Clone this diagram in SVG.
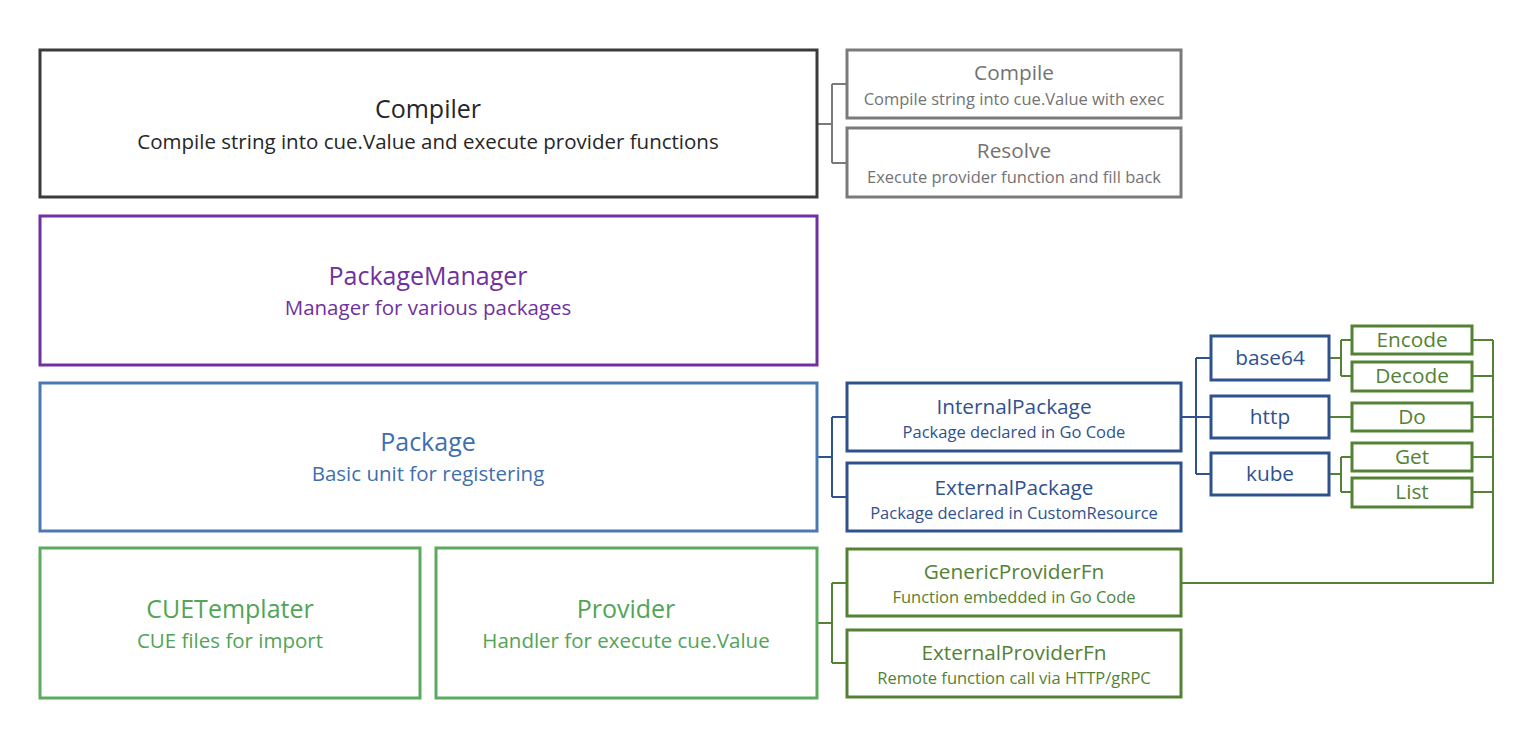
<svg xmlns="http://www.w3.org/2000/svg" width="1526" height="734" viewBox="0 0 1526 734">
<style>
text{font-family:"Open Sans","Noto Sans",sans-serif;text-anchor:middle}
rect{fill:#fff;stroke-width:3}
.t1{font-size:25px}
.s1{font-size:20.5px}
.t2{font-size:20.8px}
.s2{font-size:16.5px}
.k{stroke:#3b3b3b}.kt{fill:#262626}
.g{stroke:#7a7a7a}.gt{fill:#737373}
.p{stroke:#7030a0}.pt{fill:#7030a0}
.b{stroke:#4a78b4}.bt{fill:#3f6fae}
.d{stroke:#2f528f}.dt{fill:#2f528f}
.e{stroke:#548235}.et{fill:#548235}
.l{stroke:#5aab5e}.lt{fill:#52a456}
.c{fill:none;stroke-width:2}
</style>
<g id="connectors">
<path class="c g" d="M817,124H832M832,84V163M832,84H847M832,163H847"/>
<path class="c d" d="M817,457H832M832,417V497M832,417H847M832,497H847"/>
<path class="c e" d="M817,623H832M832,583V663M832,583H847M832,663H847"/>
<path class="c d" d="M1181,417H1196M1196,358V474M1196,358H1211M1196,417H1211M1196,474H1211"/>
<path class="c e" d="M1329,358H1341M1341,340V376M1341,340H1352M1341,376H1352"/>
<path class="c e" d="M1329,417H1352"/>
<path class="c e" d="M1329,474H1341M1341,457V492M1341,457H1352M1341,492H1352"/>
<path class="c e" d="M1472,340H1493M1472,376H1493M1472,417H1493M1472,457H1493M1472,492H1493M1493,340V583H1181"/>
</g>
<g id="compiler"><rect class="k" x="40" y="50" width="777" height="147"/><text class="t1 kt" x="428" y="118">Compiler</text><text class="s1 kt" x="428" y="149">Compile string into cue.Value and execute provider functions</text></g>
<g id="compile"><rect class="g" x="847" y="50" width="334" height="68"/><text class="t2 gt" x="1014" y="80">Compile</text><text class="s2 gt" x="1014" y="105">Compile string into cue.Value with exec</text></g>
<g id="resolve"><rect class="g" x="847" y="128" width="334" height="69"/><text class="t2 gt" x="1014" y="158">Resolve</text><text class="s2 gt" x="1014" y="183">Execute provider function and fill back</text></g>
<g id="packagemanager"><rect class="p" x="40" y="216" width="777" height="149"/><text class="t1 pt" x="428" y="285">PackageManager</text><text class="s1 pt" x="428" y="315">Manager for various packages</text></g>
<g id="package"><rect class="b" x="40" y="383" width="777" height="148"/><text class="t1 bt" x="428" y="451">Package</text><text class="s1 bt" x="428" y="481">Basic unit for registering</text></g>
<g id="internalpackage"><rect class="d" x="847" y="383" width="334" height="68"/><text class="t2 dt" x="1014" y="414">InternalPackage</text><text class="s2 dt" x="1014" y="438">Package declared in Go Code</text></g>
<g id="externalpackage"><rect class="d" x="847" y="463" width="334" height="68"/><text class="t2 dt" x="1014" y="495">ExternalPackage</text><text class="s2 dt" x="1014" y="519">Package declared in CustomResource</text></g>
<g id="base64"><rect class="d" x="1211" y="336" width="118" height="44"/><text class="t2 dt" x="1270" y="365">base64</text></g>
<g id="http"><rect class="d" x="1211" y="396" width="118" height="42"/><text class="t2 dt" x="1270" y="424">http</text></g>
<g id="kube"><rect class="d" x="1211" y="453" width="118" height="42"/><text class="t2 dt" x="1270" y="481">kube</text></g>
<g id="encode"><rect class="e" x="1352" y="326" width="120" height="28"/><text class="t2 et" x="1412" y="347">Encode</text></g>
<g id="decode"><rect class="e" x="1352" y="362" width="120" height="29"/><text class="t2 et" x="1412" y="383">Decode</text></g>
<g id="do"><rect class="e" x="1352" y="403" width="120" height="28"/><text class="t2 et" x="1412" y="424">Do</text></g>
<g id="get"><rect class="e" x="1352" y="443" width="120" height="28"/><text class="t2 et" x="1412" y="464">Get</text></g>
<g id="list"><rect class="e" x="1352" y="478" width="120" height="29"/><text class="t2 et" x="1412" y="499">List</text></g>
<g id="cuetemplater"><rect class="l" x="40" y="548" width="380" height="150"/><text class="t1 lt" x="230" y="618">CUETemplater</text><text class="s1 lt" x="230" y="648">CUE files for import</text></g>
<g id="provider"><rect class="l" x="436" y="548" width="381" height="150"/><text class="t1 lt" x="626" y="618">Provider</text><text class="s1 lt" x="626" y="648">Handler for execute cue.Value</text></g>
<g id="genericproviderfn"><rect class="e" x="847" y="549" width="334" height="67"/><text class="t2 et" x="1014" y="579">GenericProviderFn</text><text class="s2 et" x="1014" y="603">Function embedded in Go Code</text></g>
<g id="externalproviderfn"><rect class="e" x="847" y="630" width="334" height="67"/><text class="t2 et" x="1014" y="660">ExternalProviderFn</text><text class="s2 et" x="1014" y="684">Remote function call via HTTP/gRPC</text></g>
</svg>
